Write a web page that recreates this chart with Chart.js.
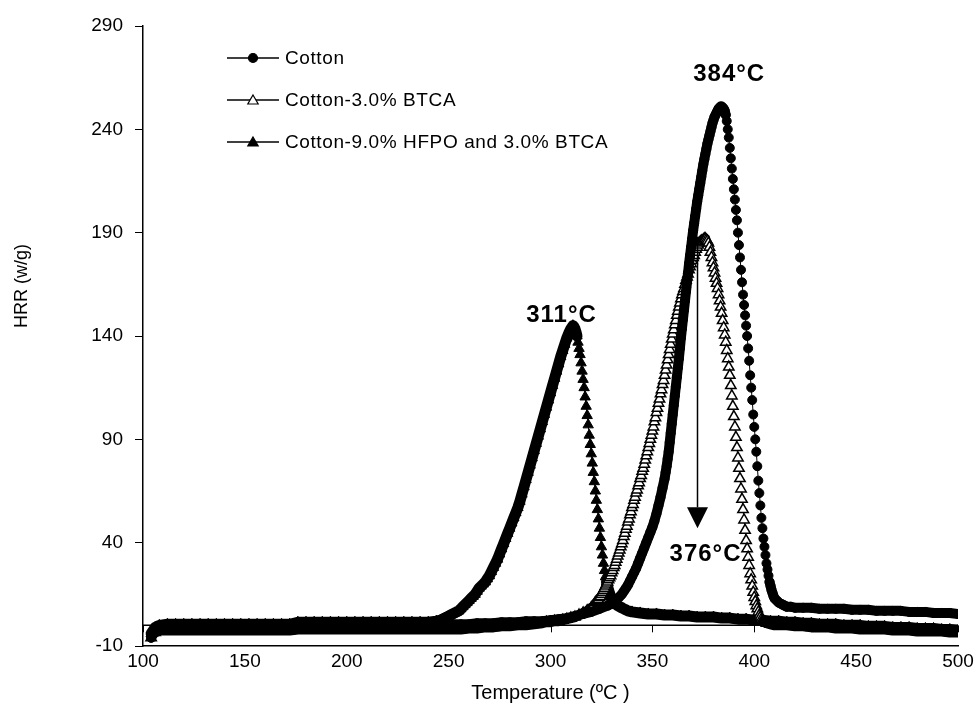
<!DOCTYPE html>
<html>
<head>
<meta charset="utf-8">
<script src="https://cdn.jsdelivr.net/npm/chart.js@4.4.1/dist/chart.umd.min.js"></script>
<style>
html,body{margin:0;padding:0;background:#fff;}
#wrap{width:980px;height:708px;position:relative;}
</style>
</head>
<body>
<div id="wrap"><canvas id="c" width="980" height="708"></canvas></div>
<script>
// ---------- data (temperature °C, HRR W/g) ----------
const seriesNames = ['Cotton', 'Cotton-3.0% BTCA', 'Cotton-9.0% HFPO and 3.0% BTCA'];

const cottonData = [[104,-6],[106,-2.5],[108,-1],[112,-0.5],[116,-0.5],[120,-0.5],[124,-0.5],[128,-0.5],[132,-0.5],[136,-0.5],[140,-0.5],[144,-0.5],[148,-0.5],[152,-0.5],[156,-0.5],[160,-0.5],[164,-0.5],[168,-0.5],[172,-0.5],[176,0],[180,0],[184,0],[188,0],[192,0],[196,0],[200,0],[204,0],[208,0],[212,0],[216,0],[220,0],[224,0],[228,0],[232,0],[236,0],[240,0],[244,0],[248,0.5],[252,0.5],[256,0.5],[260,0.5],[264,1],[268,1],[272,1],[276,1.5],[280,1.5],[284,1.5],[288,2],[292,2],[296,2],[300,2.5],[304,3],[308,3.5],[312,4.5],[316,5.5],[320,6.5],[324,8],[328,9.5],[330,10.5],[331,11],[332,12],[333,13],[334,14],[335,15],[336,16.5],[337,18],[338,19.5],[339,21.5],[340,23.5],[341,25.5],[342,27.5],[343,30],[344,32.5],[345,35],[346,37.5],[347,40],[348,42.5],[349,45],[350,47.5],[351,50.5],[352,54],[353,58],[354,62],[355,66.5],[356,71],[356.5,74],[357,77],[357.5,80.5],[358,84],[358.5,88.5],[359,93],[359.5,97.5],[360,102],[360.5,106.5],[361,111],[361.5,115.5],[362,120],[362.5,124.5],[363,129],[363.5,134],[364,139],[364.5,143.5],[365,148],[365.5,152.5],[366,157],[366.5,161.5],[367,166],[367.5,170.5],[368,175],[368.5,179],[369,183],[369.5,187],[370,191],[370.5,194.5],[371,198],[371.5,201.5],[372,205],[372.5,208],[373,211],[373.5,214],[374,217],[374.5,220],[375,223],[375.5,225.5],[376,228],[376.5,230.5],[377,233],[377.5,235],[378,237],[378.5,239],[379,241],[379.5,243],[380,244.5],[380.5,246],[381,247],[381.5,248],[382,249],[382.5,250],[383,250.5],[383.5,251],[384,251],[384.5,250.5],[385,250],[385.5,249],[386,247],[386.5,244],[387,240],[387.5,236],[388,231],[388.5,226],[389,221],[389.5,216],[390,211],[390.5,206],[391,201],[391.5,196],[392,190],[392.5,184],[393,178],[393.5,172],[394,166],[394.5,160],[395,155],[395.5,150],[396,145],[396.5,140],[397,134],[397.5,128],[398,121],[398.5,115],[399,109],[399.5,102],[400,96],[400.5,90],[401,84],[401.5,77],[402,70],[402.5,64],[403,58],[403.5,52],[404,47],[404.5,42],[405,38],[405.5,34],[406,30],[406.5,27],[407,24],[407.5,21],[408,19],[408.5,17],[409,15.5],[409.5,14],[410,13],[411,12],[412,11],[413,10.5],[414,10],[415,9.5],[416,9],[418,9],[420,8.5],[424,8.5],[428,8.5],[432,8],[436,8],[440,8],[444,8],[448,7.5],[452,7.5],[456,7.5],[460,7],[464,7],[468,7],[472,7],[476,6.5],[480,6.5],[484,6.5],[488,6],[492,6],[496,6],[500,5.5]];

const btcaData = [[104,-6],[106,-3.5],[108,-2.5],[112,-2.5],[116,-2.5],[120,-2.5],[124,-2.5],[128,-2.5],[132,-2.5],[136,-2.5],[140,-2.5],[144,-2.5],[148,-2.5],[152,-2.5],[156,-2.5],[160,-2.5],[164,-2.5],[168,-2.5],[172,-2.5],[176,-2],[180,-2],[184,-2],[188,-2],[192,-2],[196,-2],[200,-2],[204,-2],[208,-2],[212,-2],[216,-2],[220,-2],[224,-2],[228,-2],[232,-2],[236,-2],[240,-2],[244,-2],[248,-2],[252,-2],[256,-2],[260,-1.5],[264,-1.5],[268,-1],[272,-1],[276,-0.5],[280,-0.5],[284,0],[288,0],[292,0.5],[296,1],[298,1.5],[300,1.5],[302,2],[304,2],[306,2.5],[308,3],[310,3.5],[312,4],[314,5],[316,6],[318,7],[320,8.5],[320.5,9],[321,9.5],[321.5,10],[322,11],[322.5,11.5],[323,12],[323.5,12.5],[324,13.5],[324.5,14],[325,15],[325.5,16],[326,17],[326.5,18],[327,19],[327.5,20],[328,21],[328.5,22],[329,23],[329.5,24],[330,25.5],[330.5,26.5],[331,28],[331.5,29],[332,30.5],[332.5,32],[333,33.5],[333.5,35],[334,36.5],[334.5,38],[335,39.5],[335.5,41],[336,43],[336.5,44.5],[337,46.5],[337.5,48],[338,50],[338.5,51.5],[339,53.5],[339.5,55],[340,57],[340.5,58.5],[341,60.5],[341.5,62],[342,64],[342.5,65.5],[343,67.5],[343.5,69],[344,71],[344.5,72.5],[345,74.5],[345.5,76],[346,78],[346.5,80],[347,82],[347.5,84],[348,86],[348.5,88],[349,90],[349.5,92],[350,94],[350.5,96],[351,98.5],[351.5,100.5],[352,103],[352.5,105],[353,107.5],[353.5,109.5],[354,112],[354.5,114],[355,116.5],[355.5,118.5],[356,121],[356.5,123.5],[357,126],[357.5,128.5],[358,131],[358.5,133.5],[359,136],[359.5,138.5],[360,141],[360.5,143],[361,145.5],[361.5,147.5],[362,150],[362.5,152],[363,154],[363.5,156],[364,158],[364.5,160],[365,161.5],[365.5,163],[366,165],[366.5,167],[367,168.5],[367.5,170],[368,172],[368.5,173.5],[369,175],[369.5,176.5],[370,178],[370.5,179],[371,180.5],[371.5,182],[372,183],[372.5,184],[373,185],[373.5,185.5],[374,186],[374.5,186],[375,186.5],[375.5,187],[376,187],[376.5,186.5],[377,186],[377.5,185],[378,183],[378.5,180.5],[379,178],[379.5,175.5],[380,173],[380.5,170.5],[381,168],[381.5,165.5],[382,163],[382.5,160],[383,157],[383.5,154],[384,151],[384.5,147.5],[385,144],[385.5,140.5],[386,137],[386.5,133],[387,129],[387.5,125],[388,121],[388.5,116],[389,111],[389.5,106],[390,101],[390.5,96],[391,91],[391.5,86],[392,81],[392.5,76],[393,71],[393.5,66],[394,61],[394.5,56],[395,51],[395.5,46],[396,41],[396.5,37],[397,33],[397.5,29],[398,25],[398.5,22],[399,19],[399.5,16],[400,13.5],[400.5,11.5],[401,9.5],[401.5,8],[402,6.5],[402.5,5],[403,4],[403.5,3],[404,2.5],[405,1.5],[406,1],[408,0.5],[410,0],[412,0],[416,0],[420,-0.5],[424,-0.5],[428,-1],[432,-1],[436,-1],[440,-1.5],[444,-1.5],[448,-1.5],[452,-2],[456,-2],[460,-2],[464,-2],[468,-2.5],[472,-2.5],[476,-2.5],[480,-3],[484,-3],[488,-3],[492,-3],[496,-3.5],[500,-3.5]];

const hfpoData = [[104,-4],[106,-1],[108,0],[112,0.5],[116,0.5],[120,0.5],[124,0.5],[128,0.5],[132,0.5],[136,0.5],[140,0.5],[144,0.5],[148,0.5],[152,0.5],[156,0.5],[160,0.5],[164,0.5],[168,0.5],[172,0.5],[176,1.5],[180,1.5],[184,1.5],[188,1.5],[192,1.5],[196,1.5],[200,1.5],[204,1.5],[208,1.5],[212,1.5],[216,1.5],[220,1.5],[224,1.5],[228,1.5],[232,1.5],[236,1.5],[240,1.5],[244,2],[246,2.5],[247,3],[248,3.5],[249,4],[250,4.5],[251,5],[252,5.5],[253,6],[254,6.5],[255,7],[256,8],[257,9],[258,10],[259,11],[260,12],[261,13],[262,14],[263,15],[264,16.5],[265,18],[266,19],[267,20],[268,21],[269,22.5],[270,24],[271,26],[272,28],[273,30],[274,32],[275,34.5],[276,37],[277,39.5],[278,42],[279,44.5],[280,47],[281,49.5],[282,52],[283,54.5],[284,57],[285,60],[286,63.5],[287,67],[288,70.5],[289,74],[290,77.5],[291,81],[292,84.5],[293,88],[294,91.5],[295,95],[296,98.5],[297,102],[298,105.5],[299,109],[300,112.5],[301,116],[302,119.5],[303,123],[304,126.5],[305,130],[306,133],[307,136],[308,139],[309,141.5],[310,143.5],[311,145],[311.5,144.5],[312,143.5],[312.5,142],[313,140],[313.5,137],[314,134],[314.5,131],[315,127],[315.5,123],[316,119],[316.5,115],[317,110.5],[317.5,106],[318,101.5],[318.5,97],[319,92],[319.5,87.5],[320,83],[320.5,78.5],[321,74],[321.5,69.5],[322,65],[322.5,60.5],[323,56],[323.5,51.5],[324,47],[324.5,42.5],[325,38],[325.5,34],[326,30],[326.5,26.5],[327,23.5],[327.5,21],[328,19],[328.5,17],[329,15.5],[329.5,14],[330,13],[331,11.5],[332,10.5],[333,9.5],[334,9],[336,8],[338,7],[340,6.5],[344,6],[348,5.5],[352,5.5],[356,5],[360,5],[364,4.5],[368,4.5],[372,4],[376,4],[380,4],[384,3.5],[388,3.5],[392,3],[396,3],[400,2.5],[404,2.5],[408,2],[412,2],[416,1.5],[420,1.5],[424,1],[428,1],[432,0.5],[436,0.5],[440,0.5],[444,0],[448,0],[452,0],[456,-0.5],[460,-0.5],[464,-0.5],[468,-1],[472,-1],[476,-1],[480,-1.5],[484,-1.5],[488,-1.5],[492,-2],[496,-2],[500,-2.5]];

const xTicks = [100, 150, 200, 250, 300, 350, 400, 450, 500];
const yTicks = [-10, 40, 90, 140, 190, 240, 290];
const xTitle = 'Temperature (ºC )';
const yTitle = 'HRR (w/g)';

// peak annotations: text, temperature, HRR where text is centred
const peakTexts = ['384°C', '311°C', '376°C'];
const peakTemps = [387.7, 305.4, 376.1];
const peakHRR = [266.7, 150.2, 34.5];
// arrow: temperature, start HRR, tip HRR
const arrowSpec = [372, 188, 47];

const FONT = '"Liberation Sans", Arial, sans-serif';

const toXY = arr => arr.map(p => ({x: p[0], y: p[1]}));

// where samples crowd together the markers merge into a solid band:
// draw a wide stroke on gently sloping or rising segments
const bandSegment = (flatK, riseK, wide) => ({
  borderWidth: c => {
    const dx = Math.abs(c.p1.x - c.p0.x);
    const dy = c.p1.y - c.p0.y;              // negative = rising
    const r = Math.abs(dy) / Math.max(dx, 1e-6);
    if (r < flatK) return wide;
    if (dy < 0 && r < riseK) return wide;
    return 1;
  }
});

// open triangles crowded on the flat baseline read as solid black
const btcaFill = c => {
  const d = c.dataset.data, i = c.dataIndex;
  const a = d[Math.max(0, i - 1)], b = d[Math.min(d.length - 1, i + 1)];
  const s = Math.abs(b.y - a.y) / Math.max(1e-6, b.x - a.x);
  return (s < 1.2 && d[i].y < 20) ? '#000' : '#fff';
};

function drawMarker(ctx, style, filled, r, x, y) {
  ctx.beginPath();
  if (style === 'circle') {
    ctx.arc(x, y, r, 0, Math.PI * 2);
  } else {
    const h = r * 1.5, w = r * Math.sqrt(3);
    ctx.moveTo(x, y - r);
    ctx.lineTo(x + w / 2, y - r + h);
    ctx.lineTo(x - w / 2, y - r + h);
    ctx.closePath();
  }
  ctx.fillStyle = filled ? '#000' : '#fff';
  ctx.fill();
  ctx.lineWidth = 1.2;
  ctx.strokeStyle = '#000';
  ctx.stroke();
}

const overlay = {
  id: 'overlay',
  beforeDatasetsDraw(chart) {
    const {ctx, chartArea: a, scales: {x, y}} = chart;
    const y0 = y.getPixelForValue(0);
    ctx.save();
    ctx.strokeStyle = '#000';
    ctx.lineWidth = 1.5;
    ctx.beginPath(); ctx.moveTo(a.left, y0); ctx.lineTo(a.right, y0); ctx.stroke();
    ctx.lineWidth = 1;
    xTicks.forEach(t => {
      const px = Math.round(x.getPixelForValue(t)) + 0.5;
      ctx.beginPath(); ctx.moveTo(px, y0); ctx.lineTo(px, y0 + 7); ctx.stroke();
    });
    ctx.restore();
  },
  afterDraw(chart) {
    const {ctx, chartArea: a, scales: {x, y}} = chart;
    ctx.save();
    // y axis title
    ctx.save();
    ctx.translate(22, 286);
    ctx.rotate(-Math.PI / 2);
    ctx.font = '18px ' + FONT;
    ctx.fillStyle = '#000';
    ctx.textAlign = 'center';
    ctx.textBaseline = 'middle';
    ctx.fillText(yTitle, 0, 0);
    ctx.restore();
    // legend
    const styles = [['circle', true, 4.5], ['triangle', false, 6], ['triangle', true, 6]];
    ctx.font = '19px ' + FONT;
    try { ctx.letterSpacing = '0.6px'; } catch (e) {}
    ctx.textBaseline = 'middle';
    ctx.textAlign = 'left';
    seriesNames.forEach((name, i) => {
      const ry = a.top + 32 + i * 42;
      const lx = a.left + 84;
      ctx.strokeStyle = '#000'; ctx.lineWidth = 1.5;
      ctx.beginPath(); ctx.moveTo(lx, ry); ctx.lineTo(lx + 52, ry); ctx.stroke();
      const s = styles[i];
      drawMarker(ctx, s[0], s[1], s[2], lx + 26, ry + (s[0] === 'triangle' ? 1 : 0));
      ctx.fillStyle = '#000';
      ctx.fillText(name, lx + 58, ry + 1);
    });
    // peak labels
    ctx.font = 'bold 24px ' + FONT;
    try { ctx.letterSpacing = '1px'; } catch (e) {}
    ctx.textAlign = 'center';
    ctx.fillStyle = '#000';
    peakTexts.forEach((t, i) => {
      ctx.fillText(t, x.getPixelForValue(peakTemps[i]), y.getPixelForValue(peakHRR[i]));
    });
    // arrow
    const ax = Math.round(x.getPixelForValue(arrowSpec[0])) + 0.5;
    const ay1 = y.getPixelForValue(arrowSpec[1]);
    const ay2 = y.getPixelForValue(arrowSpec[2]);
    const head = 21;
    ctx.strokeStyle = '#000'; ctx.lineWidth = 1.5;
    ctx.beginPath(); ctx.moveTo(ax, ay1); ctx.lineTo(ax, ay2 - head); ctx.stroke();
    ctx.beginPath();
    ctx.moveTo(ax, ay2);
    ctx.lineTo(ax - 10.5, ay2 - head);
    ctx.lineTo(ax + 10.5, ay2 - head);
    ctx.closePath();
    ctx.fillStyle = '#000'; ctx.fill();
    ctx.restore();
  }
};

new Chart(document.getElementById('c'), {
  type: 'line',
  data: {
    datasets: [
      { label: seriesNames[0], data: toXY(cottonData), borderColor: '#000', borderWidth: 1,
        borderCapStyle: 'round', borderJoinStyle: 'round', segment: bandSegment(4.5, 12, 10),
        pointStyle: 'circle', pointRadius: 4.5, pointBackgroundColor: '#000', pointBorderColor: '#000', pointBorderWidth: 1, tension: 0 },
      { label: seriesNames[1], data: toXY(btcaData), borderColor: '#000', borderWidth: 1,
        borderCapStyle: 'round', borderJoinStyle: 'round', segment: bandSegment(1, 0, 10),
        pointStyle: 'triangle', pointRadius: 6, pointBackgroundColor: btcaFill, pointBorderColor: '#000', pointBorderWidth: 1.5, tension: 0 },
      { label: seriesNames[2], data: toXY(hfpoData), borderColor: '#000', borderWidth: 1,
        borderCapStyle: 'round', borderJoinStyle: 'round', segment: bandSegment(4.5, 99, 11),
        pointStyle: 'triangle', pointRadius: 6, pointBackgroundColor: '#000', pointBorderColor: '#000', pointBorderWidth: 1, tension: 0 }
    ]
  },
  options: {
    responsive: false,
    animation: false,
    devicePixelRatio: 1,
    events: [],
    layout: { padding: { top: 26, right: 22, left: 0, bottom: 0 } },
    plugins: { legend: { display: false }, tooltip: { enabled: false } },
    scales: {
      x: {
        type: 'linear', min: 100, max: 500,
        afterBuildTicks: s => { s.ticks = xTicks.map(v => ({value: v})); },
        afterFit: s => { s.height = 62; },
        grid: { display: false, drawTicks: false },
        border: { display: true, color: '#000', width: 1.5 },
        ticks: { color: '#000', font: { family: FONT, size: 19 }, padding: 4, maxRotation: 0, autoSkip: false },
        title: { display: true, text: xTitle, color: '#000', font: { family: FONT, size: 20 }, padding: { top: 0, bottom: 3 } }
      },
      y: {
        type: 'linear', min: -10, max: 290,
        afterBuildTicks: s => { s.ticks = yTicks.map(v => ({value: v})); },
        afterFit: s => { s.width = 143; },
        grid: { display: true, drawOnChartArea: false, drawTicks: true, tickLength: 8, color: '#000', lineWidth: 1 },
        border: { display: true, color: '#000', width: 1.5 },
        ticks: { color: '#000', font: { family: FONT, size: 19 }, padding: 12, autoSkip: false },
        title: { display: false }
      }
    }
  },
  plugins: [overlay]
});
</script>
</body>
</html>
